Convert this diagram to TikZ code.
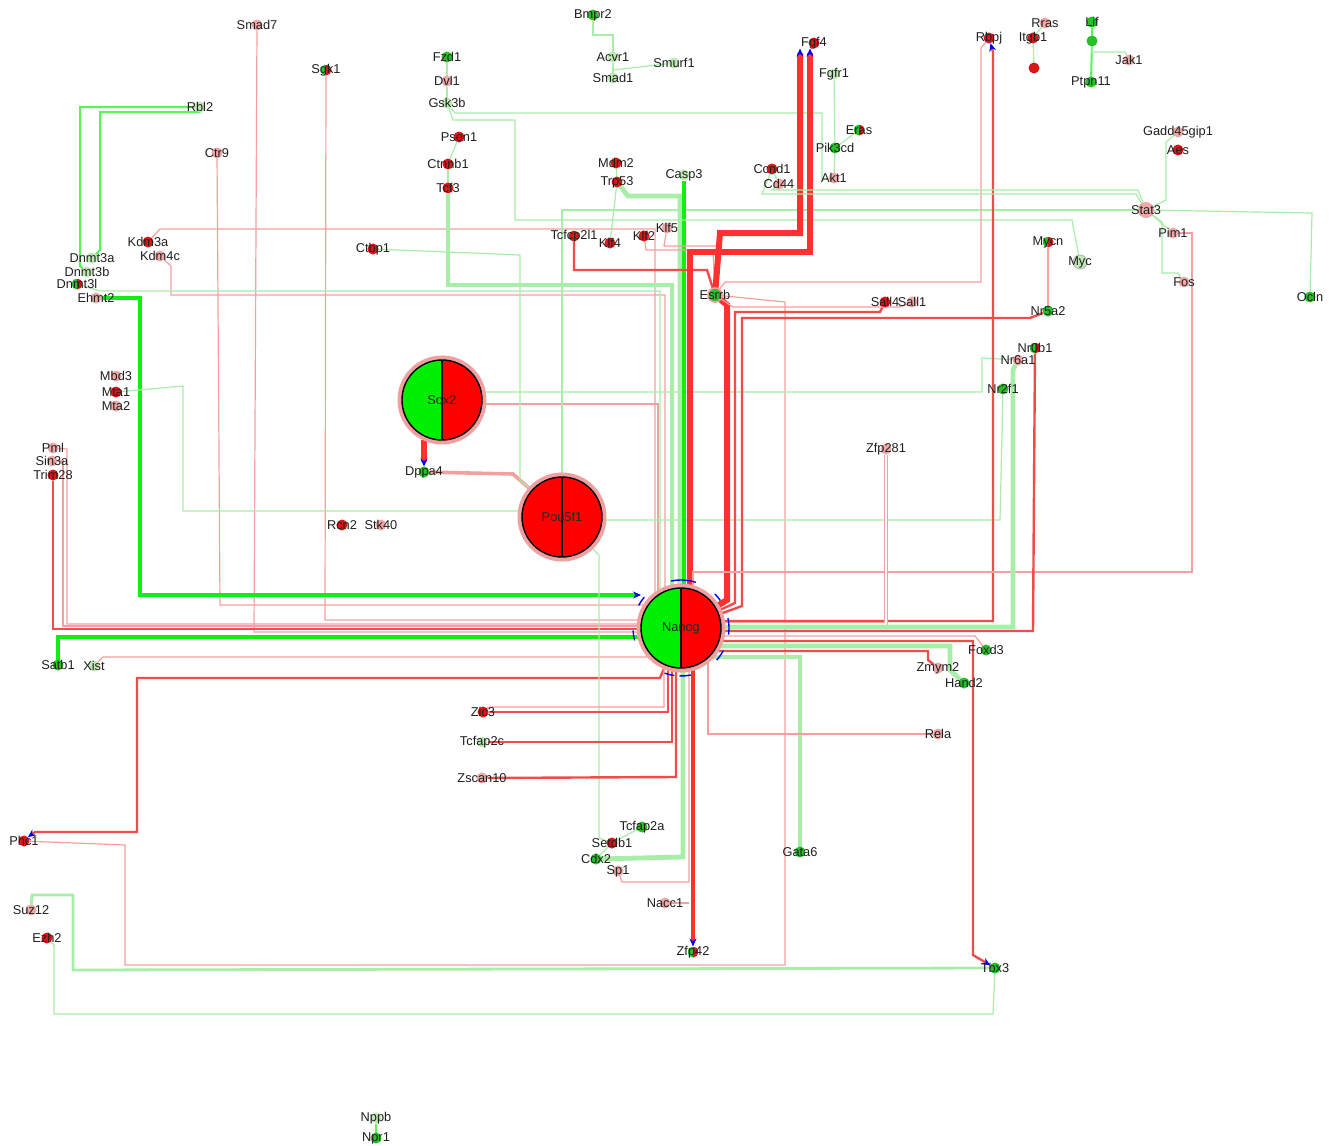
\documentclass[tikz,border=0pt]{standalone}
\usepackage{fontspec}
\setmainfont{Liberation Sans}
\usetikzlibrary{arrows.meta}
\pgfdeclarelayer{bgl}
\pgfdeclarelayer{edgel}
\pgfsetlayers{bgl,edgel,main}
\definecolor{RD}{HTML}{FF0000}
\definecolor{GR}{HTML}{00EE00}
\definecolor{dRed}{HTML}{D81818}
\definecolor{dGrn}{HTML}{28C028}
\definecolor{dPnk}{HTML}{EFA8A8}
\definecolor{dLgn}{HTML}{BEE8B4}
\definecolor{ePk}{HTML}{F4A0A0}
\definecolor{eRd}{HTML}{F24B4B}
\definecolor{eRdT}{HTML}{FF3030}
\definecolor{eGn}{HTML}{10F010}
\definecolor{eLg}{HTML}{A8EEA8}
\definecolor{ringc}{HTML}{F0A0A0}
\newcommand\lblfont{\fontsize{6.4}{7}\selectfont}
\newcommand\mygene[4]{\node[#1, label={[lbl]center:#4}] (#2) at (#3) {};}
\begin{document}
\begin{tikzpicture}[x=0.5pt, y=-0.5pt,
  gene/.style={circle, inner sep=0pt, minimum size=5.5pt, outer sep=0pt},
  dr/.style={gene, fill=dRed},
  dg/.style={gene, fill=dGrn},
  dp/.style={gene, fill=dPnk},
  dl/.style={gene, fill=dLgn},
  dps/.style={gene, fill=dPnk, minimum size=8pt},
  dlb/.style={gene, fill=dLgn, draw=black!30, line width=0.4pt, minimum size=7pt},
  dgb/.style={gene, fill=dGrn, draw=ringc, line width=0.8pt, minimum size=7pt},
  dgr/.style={gene, path picture={\fill[dGrn] (path picture bounding box.south west) rectangle (path picture bounding box.north); \fill[dRed] (path picture bounding box.south) rectangle (path picture bounding box.north east);}},
  lbl/.style={font=\lblfont, text=black!88, inner sep=0pt},
  bign/.style={circle, minimum size=40pt, inner sep=0pt, outer sep=0pt, draw=black, line width=0.7pt, preaction={draw=ringc, line width=4.5pt}, font=\lblfont, text=black!85},
  halfgr/.style={path picture={\fill[GR] (path picture bounding box.south west) rectangle (path picture bounding box.north); \fill[RD] (path picture bounding box.south) rectangle (path picture bounding box.north east); \draw[black, line width=0.7pt] (path picture bounding box.south) -- (path picture bounding box.north);}},
  halfrr/.style={path picture={\fill[RD] (path picture bounding box.south west) rectangle (path picture bounding box.north east); \draw[black, line width=0.7pt] (path picture bounding box.south) -- (path picture bounding box.north);}},
  pk/.style={draw=ePk, line width=0.6pt},
  pkd/.style={draw=ePk, line width=0.45pt, double=white, double distance=0.9pt},
  pkw/.style={draw=ePk, line width=1.8pt},
  rdm/.style={draw=eRd, line width=1.2pt},
  rdt/.style={draw=eRdT, line width=3pt},
  gnt/.style={draw=eGn, line width=2.4pt},
  gnm/.style={draw=eGn!70, line width=1pt},
  lgt/.style={draw=eLg, line width=0.6pt},
  lgw/.style={draw=eLg, line width=2.4pt},
  tipb/.style={-{Stealth[color=blue, length=4pt, width=3.5pt]}},
  tipr/.style={{Stealth[color=blue, length=4pt, width=3.5pt]}-},
  tick/.style={draw=blue, line width=0.7pt}
]
\begin{pgfonlayer}{bgl}
\fill[white] (0,0) rectangle (1329,1146);
\end{pgfonlayer}
\useasboundingbox (0,0) rectangle (1329,1146);

% ---------- big nodes
\node[bign, halfgr] (sox2) at (442,400) {Sox2};
\node[bign, halfrr] (pou5f1) at (562,517) {Pou5f1};
\node[bign, halfgr] (nanog) at (681,628) {Nanog};

% blue arrow marks around Nanog
\foreach \a/\b in {-72/-102, -140/-152, -183/-195, -250/-262, -268/-282, 8/-12, -318/-332, -35/-45} {
  \draw[tick] (nanog.center) ++(\a:48) arc (\a:\b:48);
}

% ---------- genes
\mygene{dp}{smad7}{257,25}{Smad7}
\mygene{dgr}{sgk1}{326,70}{Sgk1}
\mygene{dl}{rbl2}{200,107}{Rbl2}
\mygene{dp}{ctr9}{217,153}{Ctr9}
\mygene{dg}{fzd1}{447,57}{Fzd1}
\mygene{dp}{dvl1}{447,81}{Dvl1}
\mygene{dl}{gsk3b}{447,103}{Gsk3b}
\mygene{dr}{psen1}{459,137}{Psen1}
\mygene{dr}{ctnnb1}{448,164}{Ctnnb1}
\mygene{dr}{tcf3}{448,188}{Tcf3}
\mygene{dg}{bmpr2}{593,15}{Bmpr2}
\mygene{dl}{acvr1}{613,57}{Acvr1}
\mygene{dl}{smad1}{613,78}{Smad1}
\mygene{dl}{smurf1}{674,63}{Smurf1}
\mygene{dr}{mdm2}{616,163}{Mdm2}
\mygene{dr}{trp53}{617,182}{Trp53}
\mygene{dl}{casp3}{684,175}{Casp3}
\mygene{dr}{tcfcp2l1}{574,236}{Tcfcp2l1}
\mygene{dr}{klf4}{610,243}{Klf4}
\mygene{dr}{klf2}{644,236}{Klf2}
\mygene{dp}{klf5}{667,228}{Klf5}
\mygene{dr}{ccnd1}{772,169}{Ccnd1}
\mygene{dp}{cd44}{779,184}{Cd44}
\mygene{dr}{fgf4}{814,43}{Fgf4}
\mygene{dl}{fgfr1}{834,74}{Fgfr1}
\mygene{dgr}{eras}{859,130}{Eras}
\mygene{dg}{pik3cd}{835,148}{Pik3cd}
\mygene{dp}{akt1}{834,178}{Akt1}
\mygene{dr}{rbpj}{989,38}{Rbpj}
\mygene{dr}{itgb1}{1033,38}{Itgb1}
\mygene{dp}{rras}{1045,23}{Rras}
\node[dr] (reddot) at (1034,68) {};
\mygene{dg}{lif}{1092,22}{Lif}
\node[dg] (lifdot) at (1092,41) {};
\mygene{dp}{jak1}{1129,60}{Jak1}
\mygene{dg}{ptpn11}{1091,82}{Ptpn11}
\mygene{dp}{gadd45gip1}{1178,132}{Gadd45gip1}
\mygene{dr}{aes}{1178,150}{Aes}
\mygene{dps}{stat3}{1146,210}{Stat3}
\mygene{dp}{pim1}{1173,233}{Pim1}
\mygene{dp}{fos}{1184,282}{Fos}
\mygene{dg}{ocln}{1310,297}{Ocln}
\mygene{dgr}{mycn}{1048,242}{Mycn}
\mygene{dlb}{myc}{1080,262}{Myc}
\mygene{dgb}{esrrb}{715,295}{Esrrb}
\mygene{dr}{sall4}{885,302}{Sall4}
\mygene{dp}{sall1}{912,302}{Sall1}
\mygene{dg}{nr5a2}{1048,311}{Nr5a2}
\mygene{dgr}{nr0b1}{1035,348}{Nr0b1}
\mygene{dp}{nr6a1}{1018,360}{Nr6a1}
\mygene{dg}{nr2f1}{1003,389}{Nr2f1}
\mygene{dp}{zfp281}{886,449}{Zfp281}
\mygene{dl}{dnmt3a}{92,258}{Dnmt3a}
\mygene{dl}{dnmt3b}{87,272}{Dnmt3b}
\mygene{dgr}{dnmt3l}{77,284}{Dnmt3l}
\mygene{dp}{ehmt2}{96,298}{Ehmt2}
\mygene{dr}{kdm3a}{148,242}{Kdm3a}
\mygene{dp}{kdm4c}{160,256}{Kdm4c}
\mygene{dr}{ctbp1}{373,249}{Ctbp1}
\mygene{dp}{mbd3}{116,376}{Mbd3}
\mygene{dr}{mta1}{116,392}{Mta1}
\mygene{dp}{mta2}{116,406}{Mta2}
\mygene{dp}{pml}{53,448}{Pml}
\mygene{dp}{sin3a}{52,461}{Sin3a}
\mygene{dr}{trim28}{53,475}{Trim28}
\mygene{dg}{dppa4}{424,472}{Dppa4}
\mygene{dr}{rcn2}{342,525}{Rcn2}
\mygene{dp}{stk40}{381,525}{Stk40}
\mygene{dg}{satb1}{58,665}{Satb1}
\mygene{dl}{xist}{94,666}{Xist}
\mygene{dr}{zic3}{483,712}{Zic3}
\mygene{dl}{tcfap2c}{482,742}{Tcfap2c}
\mygene{dp}{zscan10}{482,778}{Zscan10}
\mygene{dg}{tcfap2a}{642,827}{Tcfap2a}
\mygene{dr}{setdb1}{612,843}{Setdb1}
\mygene{dg}{cdx2}{596,859}{Cdx2}
\mygene{dp}{sp1}{618,871}{Sp1}
\mygene{dp}{nacc1}{665,903}{Nacc1}
\mygene{dgr}{zfp42}{693,952}{Zfp42}
\mygene{dg}{gata6}{800,852}{Gata6}
\mygene{dg}{foxd3}{986,650}{Foxd3}
\mygene{dp}{zmym2}{938,668}{Zmym2}
\mygene{dg}{hand2}{964,683}{Hand2}
\mygene{dp}{rela}{938,734}{Rela}
\mygene{dg}{tbx3}{995,968}{Tbx3}
\mygene{dr}{phc1}{24,841}{Phc1}
\mygene{dp}{suz12}{31,910}{Suz12}
\mygene{dr}{ezh2}{47,938}{Ezh2}
\mygene{dl}{nppb}{376,1118}{Nppb}
\mygene{dg}{npr1}{376,1138}{Npr1}

% ---------- edges
\begin{pgfonlayer}{edgel}
% top-left cluster
\draw[gnm] (rbl2) -- (80,107) -- (80,266) -- (dnmt3b);
\draw[gnm] (rbl2.south) -- (200,112) -- (100,112) -- (100,250) -- (dnmt3a);
\draw[pk] (smad7) -- (254,632) -- (nanog.center |- 0,632);
\draw[pk] (sgk1) -- (325,620) -- (nanog.center |- 0,620);
\draw[pk] (ctr9) -- (220,605) -- (nanog.center |- 0,605);
\draw[pk] (kdm3a) -- (160,229) -- (655,229) -- (nanog.center -| 655,0);
\draw[pk] (kdm4c) -- (171,266) -- (171,295) -- (665,295) -- (nanog.center -| 665,0);
\draw[lgt] (dnmt3l) -- (100,291) -- (660,291) -- (nanog.center -| 660,0);
\draw[gnt, tipb] (ehmt2) -- (140,298) -- (140,595) -- (nanog.west |- 0,595);
\draw[rdm] (trim28) -- (53,629) -- (nanog.center |- 0,629);
\draw[pk] (sin3a) -- (63,461) -- (63,626) -- (nanog.center |- 0,626);
\draw[pk] (pml) -- (67,449) -- (67,624) -- (nanog.center |- 0,624);
\draw[gnt] (satb1) -- (58,637) -- (nanog.center |- 0,637);
\draw[pk] (xist) -- (103,657) -- (nanog.center |- 0,657);
\draw[rdm, tipr] (phc1.north east) -- (35,832) -- (137,832) -- (137,678) -- (660,678) -- (nanog);
\draw[pk] (phc1) -- (125,845) -- (125,965) -- (785,965) -- (785,302) -- (esrrb);
\draw[lgt] (mta1) -- (183,386) -- (183,511) -- (pou5f1.center |- 0,511);
% Sox2 / Pou5f1
\draw[rdt, tipb] (sox2.south -| dppa4) -- (dppa4);
\draw[pkw] (pou5f1) -- (513,474) -- (dppa4);
\draw[pk] (sox2.center |- 0,404) -- (658,404) -- (nanog.center -| 658,0);
\draw[lgt] (sox2.center |- 0,392) -- (982,392) -- (982,358) -- (nr6a1);
\draw[lgt] (pou5f1.center |- 0,520) -- (1000,520) -- (nr2f1);
\draw[lgt] (ctbp1) -- (520,255) -- (520,480) -- (pou5f1);
\draw[lgt] (setdb1) -- (599,838) -- (599,555) -- (pou5f1);
\draw[lgt] (stat3) -- (562,210) -- (pou5f1);
% top middle
\draw[lgt] (fzd1) -- (dvl1);
\draw[lgt] (dvl1) -- (gsk3b);
\draw[lgt] (psen1) -- (ctnnb1);
\draw[lgt] (ctnnb1) -- (tcf3);
\draw[lgt] (bmpr2) -- (593,35) -- (613,35) -- (acvr1);
\draw[lgt] (acvr1) -- (smad1);
\draw[lgt] (smurf1) -- (613,70) -- (smad1);
\draw[lgt] (mdm2) -- (trp53);
\draw[lgt] (trp53) -- (klf4);
\draw[lgw] (tcf3) -- (448,285) -- (672,285) -- (nanog.center -| 672,0);
\draw[lgw] (trp53) -- (628,196) -- (680,196) -- (nanog.center -| 680,0);
\draw[gnt] (casp3) -- (nanog.center -| casp3);
\draw[lgt] (gsk3b) -- (455,113) -- (822,113) -- (822,180) -- (akt1);
\draw[lgt] (gsk3b) -- (453,120) -- (515,120) -- (515,220) -- (1072,220) -- (myc);
\draw[rdm] (tcfcp2l1) -- (574,270) -- (707,270) -- (esrrb);
\draw[pk] (klf2) -- (646,250) -- (713,250) -- (esrrb);
\draw[pk] (klf5) -- (664,246) -- (717,246) -- (esrrb);
% Fgf4 / Esrrb
\draw[rdt, tipb] (nanog.center -| 690,0) -- (690,252) -- (810,252) -- (fgf4.south -| 810,0);
\draw[rdt, tipb] (esrrb) -- (720,233) -- (800,233) -- (fgf4.south -| 800,0);
\draw[rdt] (esrrb) -- (727,305) -- (727,600) -- (nanog);
\draw[rdm] (sall4) -- (880,312) -- (735,312) -- (735,603) -- (nanog);
\draw[rdm] (nr5a2) -- (1030,318) -- (742,318) -- (742,606) -- (nanog);
\draw[pk] (sall1) -- (900,307) -- (733,307) -- (esrrb);
\draw[pk] (mycn) -- (nr5a2);
\draw[pk] (rbpj) -- (981,48) -- (981,282) -- (725,282) -- (esrrb);
\draw[rdm, tipb] (nanog.center |- 0,621) -- (993,621) -- (993,52) -- (rbpj);
% top right
\draw[lgt] (fgfr1) -- (pik3cd);
\draw[lgt] (pik3cd) -- (akt1);
\draw[lgt] (eras) -- (pik3cd);
\draw[lgt] (ccnd1) -- (cd44);
\draw[lgt] (rras) -- (itgb1);
\draw[lgt] (itgb1) -- (reddot);
\draw[gnm] (lif) -- (lifdot) -- (ptpn11);
\draw[lgt] (lifdot) -- (1092,52) -- (1125,52) -- (jak1);
\draw[lgt] (cd44) -- (772,190) -- (1138,190) -- (stat3);
\draw[lgt] (ccnd1) -- (762,194) -- (1136,194) -- (stat3);
\draw[lgt] (gadd45gip1) -- (1166,142) -- (1166,200) -- (stat3);
\draw[lgt] (stat3) -- (1312,213) -- (ocln);
\draw[lgt] (stat3) -- (1162,222) -- (1162,273) -- (1178,273) -- (fos);
\draw[lgt] (stat3) -- (pim1);
\draw[pk] (pim1) -- (1192,233) -- (1192,572) -- (693,572) -- (nanog.center -| 693,0);
% right side
\draw[pkd] (zfp281) -- (886,624) -- (nanog.center |- 0,624);
\draw[lgw] (nr6a1) -- (1013,370) -- (1013,627) -- (nanog.center |- 0,627);
\draw[rdm] (nr0b1) -- (1033,631) -- (nanog.center |- 0,631);
\draw[pk] (foxd3) -- (975,636) -- (nanog.center |- 0,636);
\draw[rdm, tipb] (nanog.center |- 0,641) -- (973,641) -- (973,955) -- (tbx3);
\draw[lgw] (hand2) -- (950,670) -- (950,646) -- (nanog.center |- 0,646);
\draw[rdm] (zmym2) -- (928,660) -- (928,651) -- (nanog.center |- 0,651);
\draw[lgw] (gata6) -- (800,657) -- (nanog.center |- 0,657);
\draw[pk] (rela) -- (708,734) -- (nanog.center -| 708,0);
% bottom
\draw[rdm] (zic3) -- (668,712) -- (nanog.center -| 668,0);
\draw[pk] (zic3.north east) -- (490,707) -- (664,707) -- (nanog.center -| 664,0);
\draw[rdm] (tcfap2c) -- (672,742) -- (nanog.center -| 672,0);
\draw[rdm] (zscan10) -- (676,777) -- (nanog.center -| 676,0);
\draw[lgw] (cdx2) -- (683,857) -- (nanog.center -| 683,0);
\draw[lgt] (tcfap2a) -- (setdb1);
\draw[lgt] (setdb1) -- (cdx2);
\draw[pk] (sp1) -- (622,882) -- (689,882) -- (nanog.center -| 689,0);
\draw[pk] (nacc1) -- (689,903);
\draw[rdt, line width=2pt, tipb] (nanog.center -| 693,0) -- (zfp42);
\draw[lgw, line width=1.4pt] (suz12) -- (32,895) -- (73,895) -- (73,970) -- (tbx3);
\draw[lgt] (ezh2) -- (54,945) -- (54,1014) -- (993,1014) -- (tbx3);
\draw[gnm] (nppb) -- (npr1);
\end{pgfonlayer}
\end{tikzpicture}
\end{document}
